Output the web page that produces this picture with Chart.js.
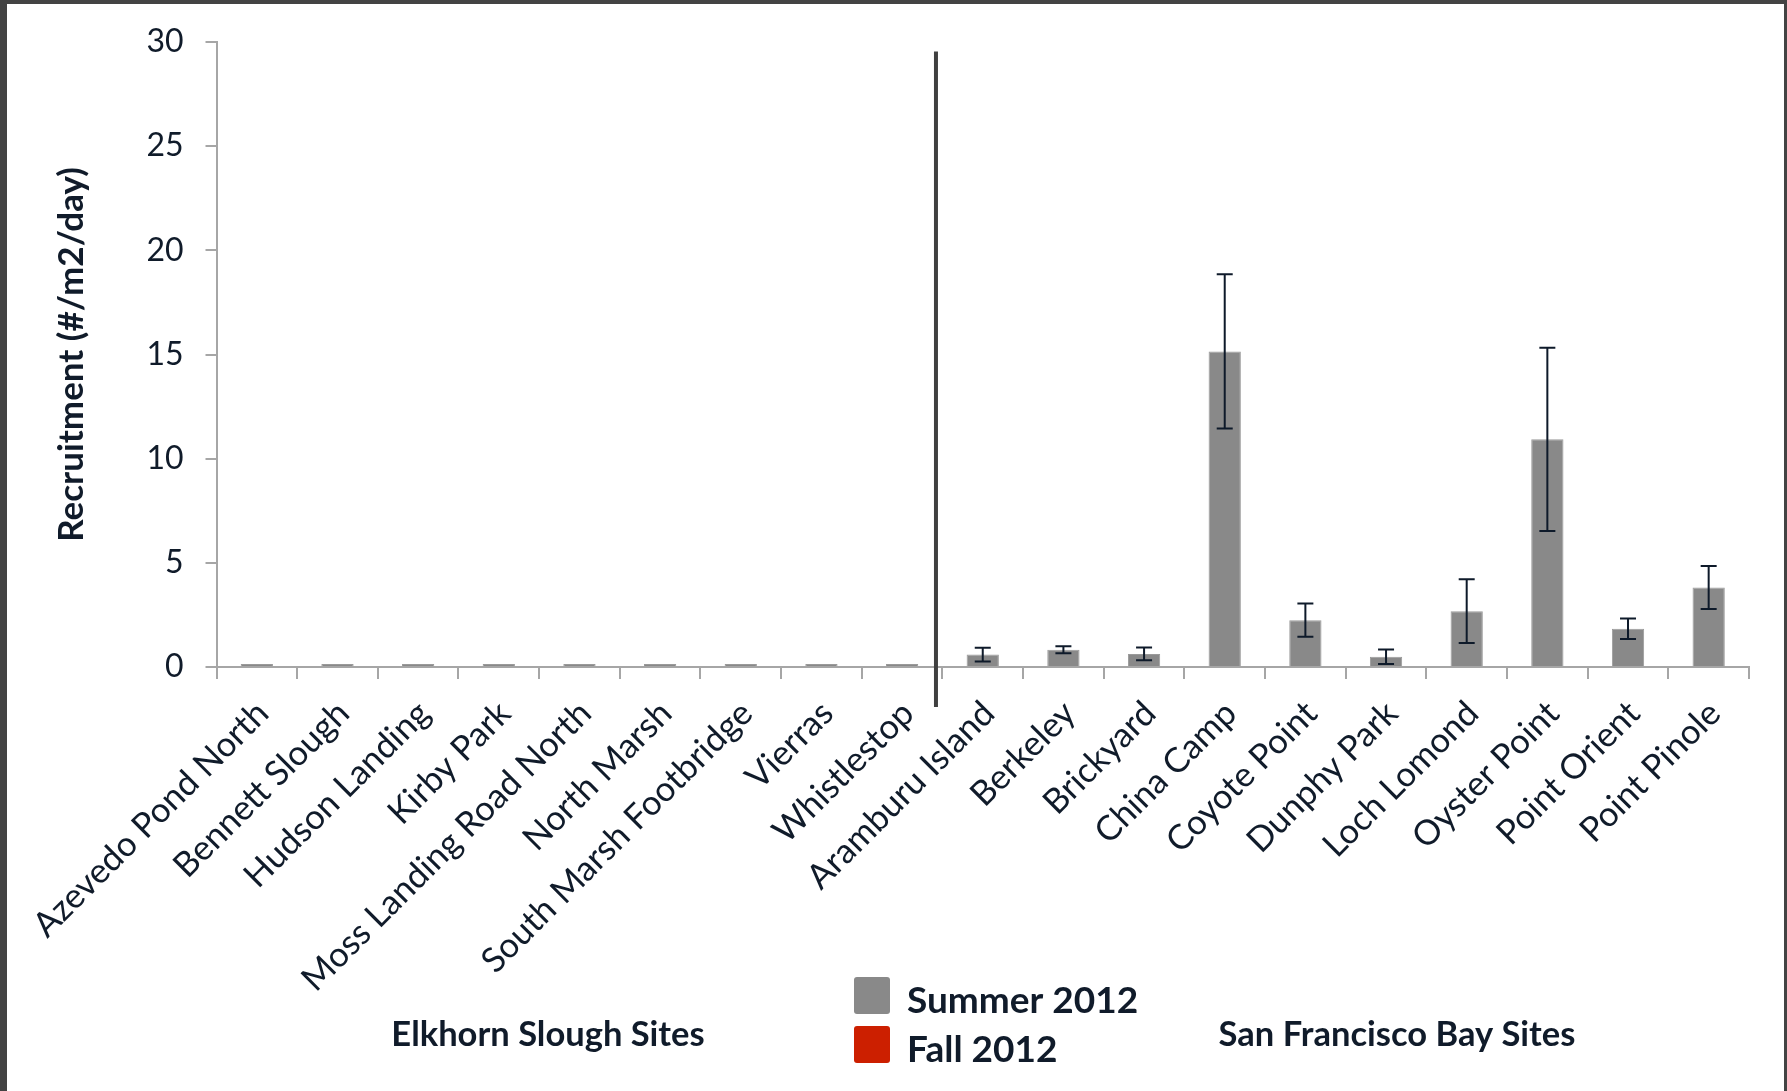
<!DOCTYPE html>
<html lang="en">
<head>
<meta charset="UTF-8">
<title>Recruitment by Site</title>
<script src="https://cdn.jsdelivr.net/npm/chart.js"></script>
<style>
    html, body {
        margin: 0;
        padding: 0;
        background: #fff;
    }

    .frame {
        position: relative;
        width: 1787px;
        height: 1091px;
        overflow: hidden;
    }

    .frame canvas {
        position: absolute;
        left: 0;
        top: 0;
    }

    .edge {
        position: absolute;
        background: #434343;
    }

    .edge.top { left: 0; top: 0; width: 1787px; height: 4px; }
    .edge.left { left: 0; top: 0; width: 7px; height: 1091px; }
    .edge.right { right: 0; top: 0; width: 3px; height: 1091px; }
</style>
</head>
<body>
<div class="frame">
    <canvas id="recruitChart" width="1787" height="1091"></canvas>
    <div class="edge top"></div>
    <div class="edge left"></div>
    <div class="edge right"></div>
</div>

<script>
    const sites = [
        'Azevedo Pond North', 'Bennett Slough', 'Hudson Landing', 'Kirby Park',
        'Moss Landing Road North', 'North Marsh', 'South Marsh Footbridge', 'Vierras',
        'Whistlestop', 'Aramburu Island', 'Berkeley', 'Brickyard', 'China Camp',
        'Coyote Point', 'Dunphy Park', 'Loch Lomond', 'Oyster Point', 'Point Orient',
        'Point Pinole'
    ];

    // mean recruitment and +/- error, summer 2012
    const summer2012 = [0, 0, 0, 0, 0, 0, 0, 0, 0, 0.6, 0.83, 0.63, 15.15, 2.25, 0.49, 2.68, 10.93, 1.84, 3.82];
    const summer2012Err = [0, 0, 0, 0, 0, 0, 0, 0, 0, 0.33, 0.17, 0.31, 3.7, 0.8, 0.35, 1.53, 4.4, 0.49, 1.03];

    // no fall samples yet
    const fall2012 = [null, null, null, null, null, null, null, null, null, null, null, null, null, null, null, null, null, null, null];

    const yTicks = [0, 5, 10, 15, 20, 25, 30];
    const groupLabels = ['Elkhorn Slough Sites', 'San Francisco Bay Sites'];
    const lastElkhornIndex = 8;

    const textColor = '#101b2a';
    const axisColor = '#a6a6a6';
    const fontFamily = 'Lato, "Open Sans", sans-serif';

    // error bars on top of the summer bars
    const errorBars = {
        id: 'errorBars',
        afterDatasetsDraw(chart) {
            const ctx = chart.ctx;
            const y = chart.scales.y;
            chart.data.datasets.forEach((ds, i) => {
                if (!ds.errors) return;
                const meta = chart.getDatasetMeta(i);
                meta.data.forEach((bar, j) => {
                    const v = ds.data[j];
                    const e = ds.errors[j];
                    if (v == null || !e) return;
                    const top = y.getPixelForValue(v + e);
                    const bot = y.getPixelForValue(v - e);
                    ctx.save();
                    ctx.strokeStyle = '#0e1a2a';
                    ctx.lineWidth = 2;
                    ctx.beginPath();
                    ctx.moveTo(bar.x, top);
                    ctx.lineTo(bar.x, bot);
                    ctx.moveTo(bar.x - 8, top);
                    ctx.lineTo(bar.x + 8, top);
                    ctx.moveTo(bar.x - 8, bot);
                    ctx.lineTo(bar.x + 8, bot);
                    ctx.stroke();
                    ctx.restore();
                });
            });
        }
    };

    // divider between the two estuaries, group captions and legend
    const siteGroups = {
        id: 'siteGroups',
        afterDraw(chart) {
            const ctx = chart.ctx;
            const x = chart.scales.x;
            const y = chart.scales.y;
            const area = chart.chartArea;

            const divX = x.getPixelForValue(lastElkhornIndex + 0.42);
            ctx.save();
            ctx.strokeStyle = '#404040';
            ctx.lineWidth = 4;
            ctx.beginPath();
            ctx.moveTo(divX, y.getPixelForValue(29.55));
            ctx.lineTo(divX, area.bottom + 40);
            ctx.stroke();

            ctx.fillStyle = textColor;
            ctx.font = 'bold 34.5px ' + fontFamily;
            ctx.textAlign = 'center';
            ctx.textBaseline = 'middle';
            ctx.fillText(groupLabels[0], 548, 1035);
            ctx.fillText(groupLabels[1], 1397, 1035);

            // legend
            ctx.font = 'bold 37px ' + fontFamily;
            ctx.textAlign = 'left';
            chart.data.datasets.forEach((ds, i) => {
                const top = 977 + i * 49;
                ctx.fillStyle = ds.backgroundColor;
                ctx.beginPath();
                ctx.roundRect(854, top, 36, 37, 3);
                ctx.fill();
                ctx.fillStyle = textColor;
                ctx.fillText(ds.label, 907, top + 24);
            });
            ctx.restore();
        }
    };

    new Chart(document.getElementById('recruitChart'), {
        type: 'bar',
        data: {
            labels: sites,
            datasets: [
                {
                    label: 'Summer 2012',
                    data: summer2012,
                    errors: summer2012Err,
                    backgroundColor: '#898989',
                    borderColor: '#9a9a9a',
                    borderWidth: 1,
                    minBarLength: 3
                },
                {
                    label: 'Fall 2012',
                    data: fall2012,
                    backgroundColor: '#cc1f00'
                }
            ]
        },
        options: {
            responsive: false,
            animation: false,
            grouped: false,
            categoryPercentage: 1,
            barPercentage: 0.4,
            layout: {
                padding: { left: 47, top: 42, right: 38, bottom: 0 }
            },
            plugins: {
                legend: { display: false },
                tooltip: { enabled: false }
            },
            scales: {
                y: {
                    min: 0,
                    max: 30,
                    afterBuildTicks(scale) {
                        scale.ticks = yTicks.map(v => ({ value: v }));
                    },
                    afterFit(scale) {
                        scale.width = 169.5;
                    },
                    border: { color: axisColor, width: 2 },
                    grid: {
                        drawOnChartArea: false,
                        tickLength: 11,
                        color: axisColor,
                        lineWidth: 2
                    },
                    ticks: {
                        padding: 22,
                        color: textColor,
                        font: { family: fontFamily, size: 32 }
                    },
                    title: {
                        display: true,
                        text: 'Recruitment (#/m2/day)',
                        color: textColor,
                        font: { family: fontFamily, size: 35, weight: 'bold' }
                    }
                },
                x: {
                    afterFit(scale) {
                        scale.height = 424;
                    },
                    border: { color: axisColor, width: 2 },
                    grid: {
                        offset: true,
                        drawOnChartArea: false,
                        tickLength: 12,
                        color: axisColor,
                        lineWidth: 2
                    },
                    ticks: {
                        autoSkip: false,
                        minRotation: 45,
                        maxRotation: 45,
                        padding: 14,
                        labelOffset: 6,
                        color: textColor,
                        font: { family: fontFamily, size: 34.5 }
                    }
                }
            }
        },
        plugins: [errorBars, siteGroups]
    });
</script>
</body>
</html>
